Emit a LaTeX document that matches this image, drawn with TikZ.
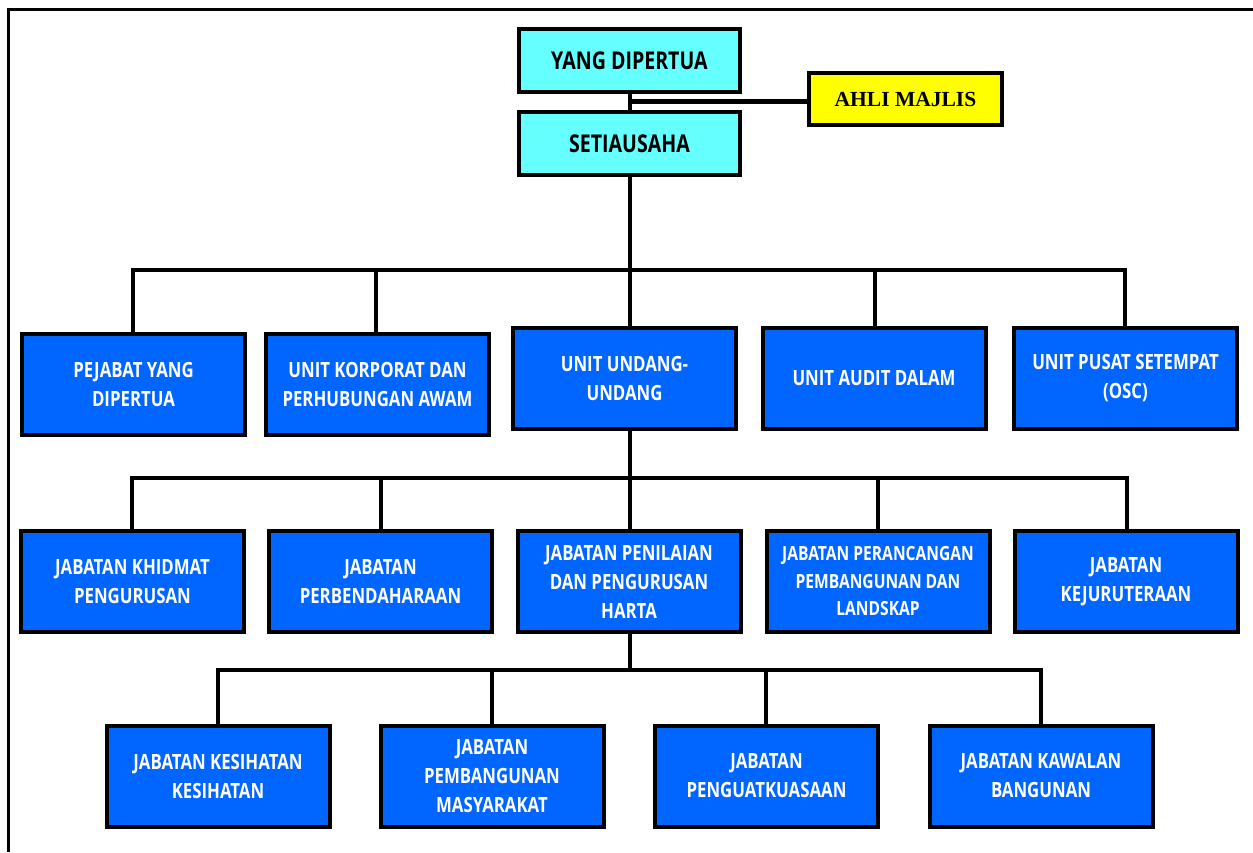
\documentclass[tikz,border=0pt]{standalone}
\usepackage{fontspec}
\newfontfamily\boxfont[FakeStretch=0.8]{Open Sans}
\newfontfamily\serifbox{Liberation Serif}
\definecolor{topcyan}{HTML}{66FFFF}
\definecolor{unitblue}{HTML}{0066FF}
\definecolor{ahliyellow}{HTML}{FFFF00}
\tikzset{
  topbox/.style={draw=black, line width=4pt, fill=topcyan, minimum width=221pt, minimum height=63pt,
    inner sep=0pt, align=center, font=\boxfont\bfseries\fontsize{24.5}{29}\selectfont, text=black},
  unitbox/.style={draw=black, line width=4pt, fill=unitblue, minimum width=223pt, minimum height=101pt,
    inner sep=0pt, align=center, font=\boxfont\bfseries\fontsize{21}{29}\selectfont, text=white},
  smallunit/.style={unitbox, font=\boxfont\bfseries\fontsize{19.5}{27.5}\selectfont},
  ahlibox/.style={draw=black, line width=4.5pt, fill=ahliyellow, minimum width=193pt, minimum height=52pt,
    inner sep=0pt, align=center, font=\serifbox\bfseries\fontsize{21.5}{24}\selectfont, text=black},
  link/.style={draw=black, line width=3.5pt},
  frameline/.style={draw=black, line width=2.5pt}
}
\begin{document}
\begin{tikzpicture}[x=1pt, y=-1pt]
\useasboundingbox (0,0) rectangle (1253,852);
\fill[white] (0,0) rectangle (1253,852);
% frame
\coordinate (fTL) at (8.5,9.5);
\coordinate (fTR) at (1253,9.5);
\coordinate (fBL) at (8.5,852);
\draw[frameline] (fTR) -- (fTL) -- (fBL);

% top
\node[topbox] (ydp) at (629.5,60.5) {YANG DIPERTUA};
\node[topbox] (sua) at (629.5,143.5) {SETIAUSAHA};
\node[ahlibox] (ahli) at (905.5,99) {AHLI MAJLIS};
\coordinate (jA) at (630,101);

% row 1
\node[unitbox] (r1a) at (133.5,384) {PEJABAT YANG\\DIPERTUA};
\node[unitbox] (r1b) at (377.5,384) {UNIT KORPORAT DAN\\PERHUBUNGAN AWAM};
\node[unitbox] (r1c) at (624.5,378) {UNIT UNDANG-\\UNDANG};
\node[unitbox] (r1d) at (874,378) {UNIT AUDIT DALAM};
\node[unitbox] (r1e) at (1125.5,378) {UNIT PUSAT SETEMPAT\\(OSC)};

% row 2
\node[unitbox] (r2a) at (132.5,581.5) {JABATAN KHIDMAT\\PENGURUSAN};
\node[unitbox] (r2b) at (380.5,581.5) {JABATAN\\PERBENDAHARAAN};
\node[unitbox] (r2c) at (629,581.5) {JABATAN PENILAIAN\\DAN PENGURUSAN\\HARTA};
\node[smallunit] (r2d) at (878,581.5) {JABATAN PERANCANGAN\\PEMBANGUNAN DAN\\LANDSKAP};
\node[unitbox] (r2e) at (1126,581.5) {JABATAN\\KEJURUTERAAN};

% row 3
\node[unitbox] (r3a) at (218,776) {JABATAN KESIHATAN\\KESIHATAN};
\node[unitbox] (r3b) at (492,776) {JABATAN\\PEMBANGUNAN\\MASYARAKAT};
\node[unitbox] (r3c) at (766.5,776) {JABATAN\\PENGUATKUASAAN};
\node[unitbox] (r3d) at (1041,776) {JABATAN KAWALAN\\BANGUNAN};

% top connectors
\draw[link] (630,0 |- ydp.south) -- (630,0 |- sua.north);
\draw[draw=black, line width=5pt] (jA) -- (jA -| ahli.west);

% bus 1
\coordinate (b1a) at (133,270);
\coordinate (b1b) at (376,270);
\coordinate (b1c) at (630,270);
\coordinate (b1d) at (875,270);
\coordinate (b1e) at (1125,270);
\draw[link] (b1c |- sua.south) -- (b1c);
\draw[link] (b1a |- r1a.north) -- (b1a) -- (b1e) -- (b1e |- r1e.north);
\draw[link] (b1b) -- (b1b |- r1b.north);
\draw[link] (b1c) -- (b1c |- r1c.north);
\draw[link] (b1d) -- (b1d |- r1d.north);

% bus 2
\coordinate (b2a) at (132,478);
\coordinate (b2b) at (381,478);
\coordinate (b2c) at (630,478);
\coordinate (b2d) at (878,478);
\coordinate (b2e) at (1127,478);
\draw[link] (b2c |- r1c.south) -- (b2c);
\draw[link] (b2a |- r2a.north) -- (b2a) -- (b2e) -- (b2e |- r2e.north);
\draw[link] (b2b) -- (b2b |- r2b.north);
\draw[link] (b2c) -- (b2c |- r2c.north);
\draw[link] (b2d) -- (b2d |- r2d.north);

% bus 3
\coordinate (b3a) at (218,670);
\coordinate (b3b) at (492,670);
\coordinate (b3c) at (766,670);
\coordinate (b3d) at (1041,670);
\coordinate (b3m) at (630,670);
\draw[link] (b3m |- r2c.south) -- (b3m);
\draw[link] (b3a |- r3a.north) -- (b3a) -- (b3d) -- (b3d |- r3d.north);
\draw[link] (b3b) -- (b3b |- r3b.north);
\draw[link] (b3c) -- (b3c |- r3c.north);
\end{tikzpicture}
\end{document}
